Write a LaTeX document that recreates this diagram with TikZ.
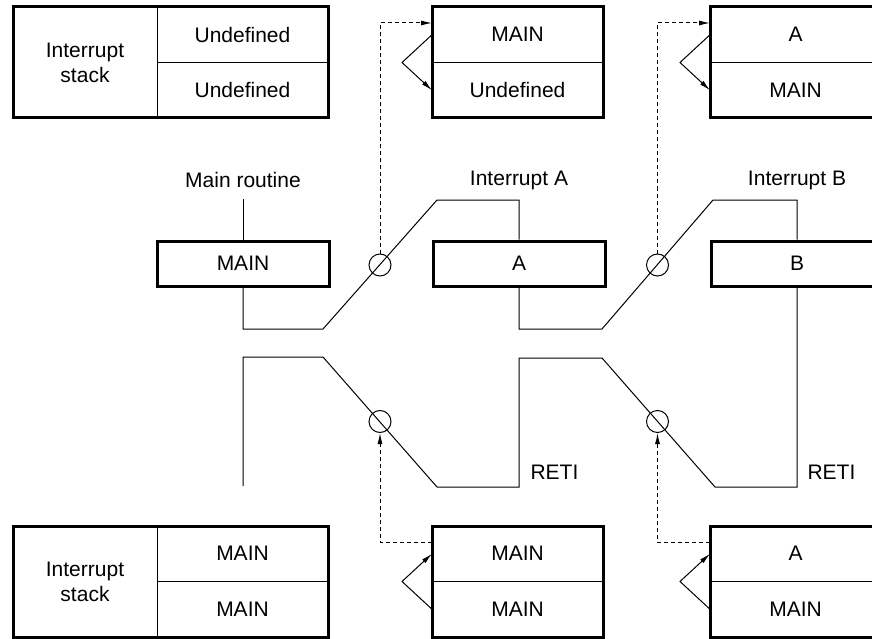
\documentclass[tikz,border=0pt]{standalone}
\usepackage{fontspec}
\setmainfont{Liberation Sans}
\usetikzlibrary{arrows.meta,calc,positioning}

\begin{document}
\begin{tikzpicture}[
  x=1pt,y=-1pt,
  font=\fontsize{21}{25}\selectfont,
  celula/.style={draw,line width=1pt,outer sep=0pt,inner sep=0pt,
                 minimum width=171pt,minimum height=55.5pt},
  rotulo/.style={draw,line width=1pt,outer sep=0pt,inner sep=0pt,
                 minimum width=144pt,minimum height=111pt,align=center},
  bloco/.style={draw,line width=3pt,inner sep=0pt,minimum width=172pt,minimum height=45pt},
  quadro/.style={line width=3pt},
  linha/.style={line width=1pt},
  seta/.style={-{Latex[length=11pt,width=5pt]},line width=1pt},
  tracejada/.style={seta,dash pattern=on 4pt off 3pt},
  anel/.style={draw,circle,line width=1pt,minimum size=22pt,inner sep=0pt}
]
  \useasboundingbox (0,0) rectangle (872,639);
  \clip (0,0) rectangle (872,639);

  % pilhas de cima
  \node[rotulo] (s0l) at (85,62.5) {Interrupt\\stack};
  \node[celula,anchor=north west] (s0a) at (s0l.north east) {Undefined};
  \node[celula,below=0pt of s0a] (s0b) {Undefined};
  \draw[quadro] (s0l.north west) rectangle (s0b.south east);

  \node[celula] (s1a) at (517.5,34.75) {MAIN};
  \node[celula,below=0pt of s1a] (s1b) {Undefined};
  \draw[quadro] (s1a.north west) rectangle (s1b.south east);

  \node[celula] (s2a) at (795.5,34.75) {A};
  \node[celula,below=0pt of s2a] (s2b) {MAIN};
  \draw[quadro] (s2a.north west) rectangle (s2b.south east);

  % pilhas de baixo
  \node[rotulo] (s3l) at (85,581.5) {Interrupt\\stack};
  \node[celula,anchor=north west] (s3a) at (s3l.north east) {MAIN};
  \node[celula,below=0pt of s3a] (s3b) {MAIN};
  \draw[quadro] (s3l.north west) rectangle (s3b.south east);

  \node[celula] (s4a) at (517.5,553.75) {MAIN};
  \node[celula,below=0pt of s4a] (s4b) {MAIN};
  \draw[quadro] (s4a.north west) rectangle (s4b.south east);

  \node[celula] (s5a) at (795.5,553.75) {A};
  \node[celula,below=0pt of s5a] (s5b) {MAIN};
  \draw[quadro] (s5a.north west) rectangle (s5b.south east);

  % rotinas
  \node (tmain) at (243,180) {Main routine};
  \node (tia) at (519,180) {Interrupt A};
  \node (tib) at (797,180) {Interrupt B};
  \node[bloco] (rmain) at (243,263.5) {MAIN};
  \node[bloco] (ra) at (519,263.5) {A};
  \node[bloco] (rb) at (797,263.5) {B};
  \node[anchor=west] (reti1) at (527,472) {RETI};
  \node[anchor=west] (reti2) at (804,472) {RETI};

  \coordinate (m0) at (243,199);
  \coordinate (m1) at (243,486);
  \draw[linha] (m0) -- (rmain.north);
  \draw[linha] (rmain.south) |- (323,329) -- (437,200) -| (ra.north);
  \draw[linha] (ra.south) |- (602,329) -- (713,200) -| (rb.north);
  \draw[linha] (rb.south) |- (715,487) -- (602,358) -| (519,487)
    -- (437,487) -- (323,357) -| (m1);

  % salvamento e retorno
  \node[anel] (c1) at (380,265) {};
  \node[anel] (c2) at (657.5,265) {};
  \node[anel] (c3) at (380,421.5) {};
  \node[anel] (c4) at (657.5,421.5) {};
  \draw[tracejada] (c1.north) |- ($(s1a.north west)+(0,16)$);
  \draw[tracejada] (c2.north) |- ($(s2a.north west)+(0,16)$);
  \draw[tracejada] ($(s4a.north west)+(0,16)$) -| (c3.south);
  \draw[tracejada] ($(s5a.north west)+(0,16)$) -| (c4.south);

  \draw[seta] (s1a.west) -- ($(s1a.south west)+(-30,0)$) -- (s1b.west);
  \draw[seta] (s2a.west) -- ($(s2a.south west)+(-30,0)$) -- (s2b.west);
  \draw[seta] (s4b.west) -- ($(s4a.south west)+(-30,0)$) -- (s4a.west);
  \draw[seta] (s5b.west) -- ($(s5a.south west)+(-30,0)$) -- (s5a.west);
\end{tikzpicture}
\end{document}
